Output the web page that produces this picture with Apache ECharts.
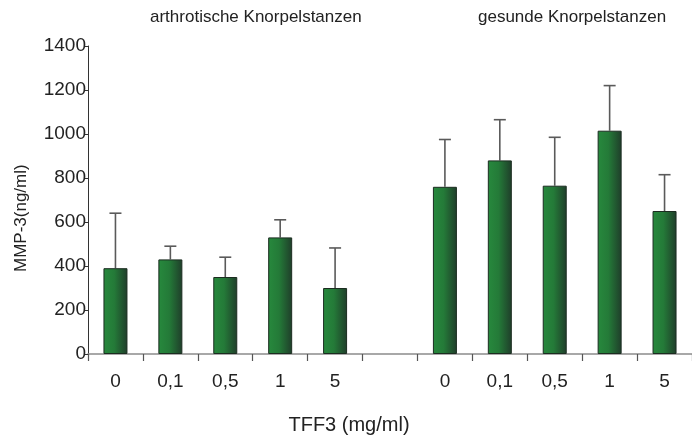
<!DOCTYPE html>
<html>
<head>
<meta charset="utf-8">
<script src="https://cdn.jsdelivr.net/npm/echarts@6/dist/echarts.min.js"></script>
<style>
  html, body { margin: 0; padding: 0; background: #fff; }
  #chart { width: 692px; height: 439px; }
</style>
</head>
<body>
<div id="chart"></div>
<script>
// TFF3 concentrations (mg/ml); the empty slot separates the two cartilage groups
var categories = ['0', '0,1', '0,5', '1', '5', '', '0', '0,1', '0,5', '1', '5'];
// MMP-3 means (ng/ml)
var meanValues = [390, 430, 350, 530, 300, null, 760, 880, 765, 1015, 650];
// upper end of each error bar (ng/ml)
var errorTops = [640, 490, 440, 610, 482, null, 975, 1065, 985, 1220, 815];
var yTicks = { min: 0, max: 1400, interval: 200 };
var groupTitles = ['arthrotische Knorpelstanzen', 'gesunde Knorpelstanzen'];

var FONT = '"Liberation Sans", Arial, Helvetica, sans-serif';

var chart = echarts.init(document.getElementById('chart'), null, { renderer: 'canvas' });

var errorData = [];
for (var i = 0; i < categories.length; i++) {
  if (meanValues[i] != null && errorTops[i] != null) {
    errorData.push([i, meanValues[i], errorTops[i]]);
  }
}

// bars shade from bright green on the left to a dark green on the right
var barFill = new echarts.graphic.LinearGradient(0, 0, 1, 0, [
  { offset: 0, color: '#27893d' },
  { offset: 0.45, color: '#247a38' },
  { offset: 1, color: '#1f3d2a' }
]);

chart.setOption({
  animation: false,
  backgroundColor: '#ffffff',
  textStyle: { fontFamily: FONT },
  grid: { left: 88, top: 46, width: 610, bottom: 85, containLabel: false },
  xAxis: {
    type: 'category',
    data: categories,
    boundaryGap: true,
    axisLine: { show: true, lineStyle: { color: '#8c8c8c', width: 1.5 } },
    axisTick: { show: true, interval: 0, length: 7, lineStyle: { color: '#555', width: 1.2 } },
    axisLabel: { interval: 0, margin: 18, fontSize: 19, color: '#222', fontFamily: FONT },
    splitLine: { show: false }
  },
  yAxis: {
    type: 'value',
    min: yTicks.min,
    max: yTicks.max,
    interval: yTicks.interval,
    axisLine: { show: true, lineStyle: { color: '#333', width: 1 } },
    axisTick: { show: true, length: 3, lineStyle: { color: '#333' } },
    axisLabel: {
      margin: 2, fontSize: 19, color: '#222', fontFamily: FONT,
      formatter: function (v) { return String(v); }
    },
    splitLine: { show: false }
  },
  graphic: [
    {
      type: 'text', left: 150, top: 9,
      style: { text: groupTitles[0], fontSize: 17, fill: '#222', fontFamily: FONT }
    },
    {
      type: 'text', left: 478, top: 9,
      style: { text: groupTitles[1], fontSize: 17, fill: '#222', fontFamily: FONT }
    },
    {
      type: 'text', x: 13, y: 272, rotation: Math.PI / 2,
      style: { text: 'MMP-3(ng/ml)', fontSize: 17, fill: '#222', fontFamily: FONT,
               align: 'left', verticalAlign: 'top' }
    },
    {
      type: 'text', x: 349, y: 425,
      style: { text: 'TFF3 (mg/ml)', fontSize: 20, fill: '#222', fontFamily: FONT,
               align: 'center', verticalAlign: 'middle' }
    }
  ],
  series: [
    {
      type: 'bar',
      data: meanValues.map(function (v) { return v == null ? '-' : v; }),
      barWidth: 24,
      itemStyle: { color: barFill, borderColor: '#1b2c20', borderWidth: 1 },
      z: 2
    },
    {
      type: 'custom',
      data: errorData,
      z: 1,
      renderItem: function (params, api) {
        var x = api.value(0);
        var base = api.coord([x, api.value(1)]);
        var top = api.coord([x, api.value(2)]);
        var half = 6;
        var st = { stroke: '#5a5a5a', lineWidth: 1.6 };
        return {
          type: 'group',
          children: [
            { type: 'line', shape: { x1: top[0], y1: base[1], x2: top[0], y2: top[1] }, style: st },
            { type: 'line', shape: { x1: top[0] - half, y1: top[1], x2: top[0] + half, y2: top[1] }, style: st }
          ]
        };
      }
    }
  ]
});
</script>
</body>
</html>
